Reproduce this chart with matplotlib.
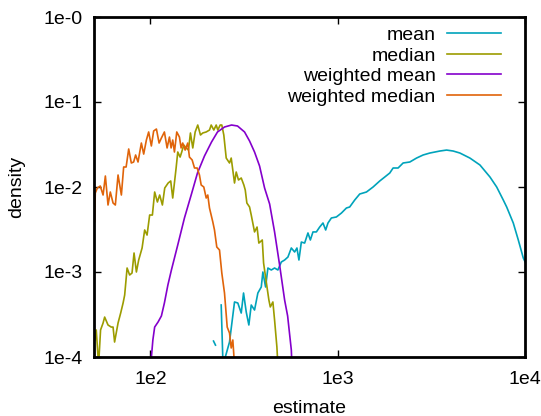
"""
Density of estimates (mean / median / weighted variants), log-log, gnuplot look.
"""

import numpy as np
import matplotlib
matplotlib.use("Agg")
import matplotlib.pyplot as plt

plt.rcParams.update({
    "font.family": ["Liberation Sans", "DejaVu Sans"],
    "font.size": 14,
    "axes.linewidth": 2.0,
})

# mean (gap = empty bin)
mean_x = [217.3, 222.6, np.nan, 238.8, 244.2, 264.5, 281.3, 292.9, 305.5, 314.3, 324.9,
          335.5, 345.5, 359.8, 374.8, 390.8, 398.6, 412.1, 424.0, 442.1, 460.3, 479.4,
          500.0, 520.8, 542.4, 565.5, 589.0, 605.9, 620.9, 639.6, 666.1, 693.8, 714.5,
          737.9, 769.4, 801.3, 834.6, 862.7, 887.5, 925.4, 984.0, 1047, 1113, 1159,
          1233, 1311, 1424, 1545, 1677, 1784, 1897, 1976, 2101, 2235, 2427, 2636,
          2858, 3105, 3512, 3814, 4136, 4491, 5080, 5747, 6501, 7060, 7656, 7983,
          8658, 9209, 9793, 10380]
mean_y = [1.54e-4, 1.38e-4, np.nan, 4.09e-4, 8e-5, 1.50e-4, 4.44e-4, 4.32e-4, 3.29e-4,
          5.66e-4, 3.38e-4, 2.38e-4, 4.09e-4, 3.57e-4, 5.66e-4, 6.66e-4, 1.0e-3,
          6.66e-4, 1.114e-3, 1.056e-3, 1.114e-3, 1.056e-3, 1.311e-3, 1.384e-3, 1.50e-3,
          1.916e-3, 1.719e-3, 1.916e-3, 1.384e-3, 2.25e-3, 2.19e-3, 2.88e-3, 2.38e-3,
          2.96e-3, 2.96e-3, 3.38e-3, 3.77e-3, 3.12e-3, 3.77e-3, 4.32e-3, 4.44e-3,
          4.94e-3, 5.66e-3, 5.82e-3, 7.03e-3, 8.27e-3, 8.73e-3, 1.0e-2, 1.177e-2,
          1.311e-2, 1.461e-2, 1.673e-2, 1.673e-2, 1.916e-2, 1.968e-2, 2.19e-2, 2.38e-2,
          2.51e-2, 2.65e-2, 2.72e-2, 2.65e-2, 2.51e-2, 2.19e-2, 1.815e-2, 1.311e-2,
          1.0e-2, 7.03e-3, 5.82e-3, 3.77e-3, 2.38e-3, 1.461e-3, 1.11e-3]

median_x = [50.4, 51.4, 52.9, 54.2, 55.9, 57.0, 59.4, 61.8, 63.2, 64.4, 67.2, 69.4,
            71.5, 72.9, 75.1, 77.5, 79.8, 81.8, 84.2, 86.6, 90.3, 93.2, 96.0, 99.1,
            102.5, 105.4, 109.0, 112.1, 115.9, 119.3, 124.4, 128.4, 131.6, 137.2,
            140.0, 144.1, 147.0, 150.7, 155.2, 159.7, 163.6, 168.4, 173.4, 179.0,
            185.1, 190.4, 198.6, 206.8, 211.2, 218.1, 224.6, 229.1, 235.9, 240.6,
            246.6, 254.0, 264.5, 270.1, 281.3, 287.2, 295.4, 305.5, 315.5, 321.0,
            327.4, 338.4, 345.5, 359.8, 371.1, 379.4, 395.7, 402.1, 415.6, 429.2,
            436.7, 450.8, 460.3, 473.6, 479.4]
median_y = [1.585e-4, 2.08e-4, 8e-5, 2.08e-4, 2.51e-4, 2.95e-4, 2.38e-4, 2.25e-4,
            2.25e-4, 1.50e-4, 2.51e-4, 3.29e-4, 4.32e-4, 5.36e-4, 1.114e-3, 9.22e-4,
            9.73e-4, 1.673e-3, 1.0e-3, 1.384e-3, 1.916e-3, 3.12e-3, 2.72e-3, 4.68e-3,
            4.68e-3, 8.73e-3, 6.66e-3, 8.05e-3, 6.14e-3, 9.73e-3, 1.114e-2, 1.177e-2,
            7.42e-3, 1.673e-2, 2.58e-2, 2.25e-2, 2.58e-2, 3.12e-2, 2.88e-2, 2.72e-2,
            4.32e-2, 2.88e-2, 4.44e-2, 5.36e-2, 4.09e-2, 4.32e-2, 4.44e-2, 4.68e-2,
            5.36e-2, 4.68e-2, 5.36e-2, 4.68e-2, 5.36e-2, 5.36e-2, 4.09e-2, 2.19e-2,
            1.916e-2, 2.19e-2, 1.114e-2, 1.50e-2, 1.209e-2, 1.276e-2, 1.056e-2,
            9.22e-3, 6.48e-3, 5.82e-3, 4.68e-3, 2.96e-3, 3.38e-3, 2.19e-3, 2.38e-3,
            1.276e-3, 7.63e-4, 4.68e-4, 3.88e-4, 4.44e-4, 2.72e-4, 1.311e-4, 8e-5]

wmean_x = [100.4, 103.1, 105.4, 109.9, 114.5, 118.8, 124.0, 129.5, 140.0, 152.0,
           165.7, 178.4, 194.5, 212.0, 228.2, 248.7, 271.2, 291.9, 318.2, 338.4,
           359.8, 382.7, 407.1, 433.1, 460.3, 489.6, 520.8, 540.4, 565.5, 569.7]
wmean_y = [8e-5, 1.585e-4, 2.25e-4, 2.58e-4, 3.04e-4, 4.32e-4, 7.03e-4, 1.056e-3,
           2.08e-3, 4.32e-3, 8.27e-3, 1.461e-2, 2.32e-2, 3.38e-2, 4.44e-2, 5.08e-2,
           5.36e-2, 5.22e-2, 4.44e-2, 3.48e-2, 2.58e-2, 1.767e-2, 9.73e-3, 6.31e-3,
           2.96e-3, 1.209e-3, 4.68e-4, 3.04e-4, 1.209e-4, 8e-5]

wmedian_x = [50.4, 50.8, 52.1, 54.0, 55.9, 57.5, 59.4, 61.1, 63.2, 65.0, 67.2, 70.0,
             72.0, 74.2, 76.6, 79.1, 81.4, 83.4, 85.9, 89.5, 92.1, 95.2, 97.9, 101.2,
             104.1, 107.7, 111.3, 114.5, 118.8, 122.8, 126.4, 129.0, 131.6, 134.4,
             138.3, 142.9, 145.9, 148.8, 153.3, 158.3, 161.6, 167.1, 172.0, 177.7,
             182.8, 186.7, 192.8, 198.6, 202.5, 206.8, 215.4, 219.9, 226.2, 233.9,
             240.6, 248.7, 257.1, 264.5, 270.1, 275.5, 281.3]
wmedian_y = [3.91e-3, 8.50e-3, 9.73e-3, 1.027e-2, 8.05e-3, 1.347e-2, 6.14e-3, 8.73e-3,
             6.48e-3, 6.14e-3, 1.384e-2, 8.05e-3, 1.719e-2, 1.719e-2, 2.80e-2,
             1.916e-2, 1.968e-2, 2.38e-2, 1.968e-2, 3.29e-2, 2.44e-2, 3.57e-2, 4.44e-2,
             3.04e-2, 4.56e-2, 4.81e-2, 3.29e-2, 3.77e-2, 4.44e-2, 2.88e-2, 3.87e-2,
             2.88e-2, 3.57e-2, 2.58e-2, 4.44e-2, 3.87e-2, 2.88e-2, 3.29e-2, 2.72e-2,
             3.29e-2, 2.25e-2, 2.08e-2, 1.673e-2, 1.673e-2, 1.384e-2, 1.056e-2,
             1.0e-2, 7.42e-3, 8.05e-3, 5.66e-3, 3.88e-3, 3.12e-3, 1.968e-3, 1.815e-3,
             9.73e-4, 5.66e-4, 2.25e-4, 1.916e-4, 1.276e-4, 1.585e-4, 8e-5]

xticks = [1e2, 1e3, 1e4]
xtick_labels = ["1e2", "1e3", "1e4"]
yticks = [1e-4, 1e-3, 1e-2, 1e-1, 1e0]
ytick_labels = ["1e-4", "1e-3", "1e-2", "1e-1", "1e-0"]

fig = plt.figure(figsize=(5.41, 4.16), dpi=100)
ax = fig.add_axes([94 / 541, 1 - 357 / 416, 431 / 541, 340 / 416])

lw = 1.2
ax.plot(mean_x, mean_y, color="#00a3bb", lw=lw, label="mean")
ax.plot(median_x, median_y, color="#9c9c00", lw=lw, label="median")
ax.plot(wmean_x, wmean_y, color="#8400cc", lw=lw, label="weighted mean")
ax.plot(wmedian_x, wmedian_y, color="#e0640a", lw=lw, label="weighted median")

ax.set_xscale("log")
ax.set_yscale("log")
ax.set_xlim(50, 1e4)
ax.set_ylim(1e-4, 1e0)
ax.set_xticks(xticks, labels=xtick_labels)
ax.set_yticks(yticks, labels=ytick_labels)
ax.minorticks_off()
ax.tick_params(which="major", direction="in", length=5, width=1.0,
               top=True, right=True)
ax.tick_params(axis="x", pad=10)
ax.tick_params(axis="y", pad=8)

ax.set_xlabel("estimate", labelpad=9)
ax.set_ylabel("density", labelpad=13)

leg = ax.legend(loc="upper right", bbox_to_anchor=(0.944, 0.972), frameon=False,
                markerfirst=False, handlelength=2.75, handletextpad=0.6,
                labelspacing=0.15, borderpad=0, borderaxespad=0)

fig.savefig("out.png", dpi=100)
